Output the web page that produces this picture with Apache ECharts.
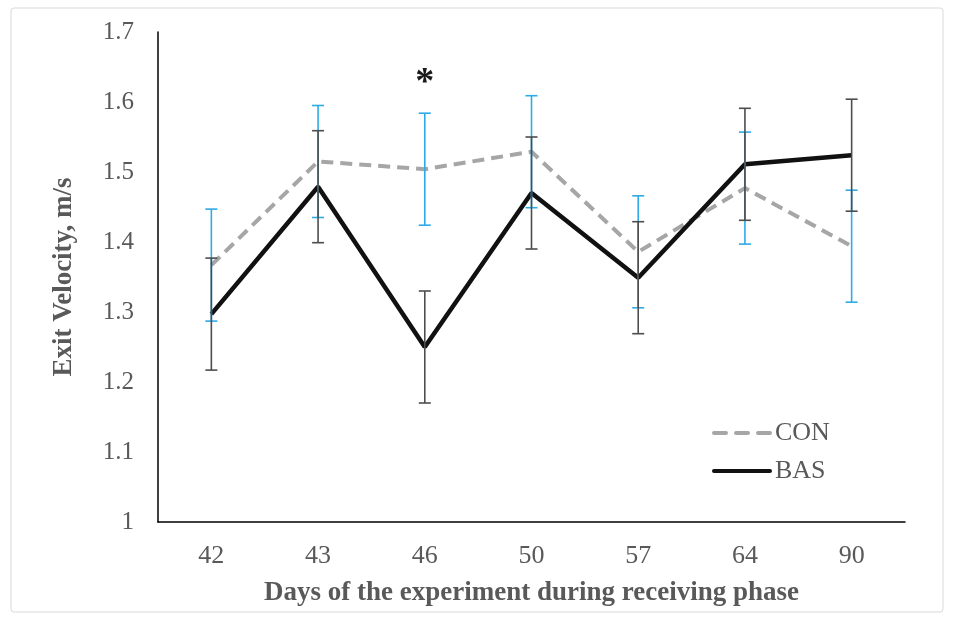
<!DOCTYPE html>
<html>
<head>
<meta charset="utf-8">
<script src="https://cdn.jsdelivr.net/npm/echarts@6/dist/echarts.min.js"></script>
<style>
  html, body { margin: 0; padding: 0; background: #fff; }
  #main { width: 953px; height: 620px; }
</style>
</head>
<body>
<div id="main"></div>
<script>
  // days of the receiving phase
  const days = ['42', '43', '46', '50', '57', '64', '90'];
  const conMean = [1.367, 1.515, 1.504, 1.529, 1.386, 1.477, 1.394];
  const conErr = [0.08, 0.08, 0.08, 0.08, 0.08, 0.08, 0.08];
  const basMean = [1.297, 1.479, 1.250, 1.470, 1.349, 1.511, 1.524];
  const basErr = [0.08, 0.08, 0.08, 0.08, 0.08, 0.08, 0.08];
  const yTicks = [1, 1.1, 1.2, 1.3, 1.4, 1.5, 1.6, 1.7];

  const serif = '"Liberation Serif", "Times New Roman", serif';
  const textColor = '#595959';

  // error bar drawn with custom series
  function errorBar(color) {
    return function (params, api) {
      const x = api.value(0);
      const hi = api.coord([x, api.value(1)]);
      const lo = api.coord([x, api.value(2)]);
      const cap = 6;
      const style = { stroke: color, lineWidth: 1.6 };
      return {
        type: 'group',
        children: [
          { type: 'line', shape: { x1: hi[0], y1: hi[1], x2: lo[0], y2: lo[1] }, style: style },
          { type: 'line', shape: { x1: hi[0] - cap, y1: hi[1], x2: hi[0] + cap, y2: hi[1] }, style: style },
          { type: 'line', shape: { x1: lo[0] - cap, y1: lo[1], x2: lo[0] + cap, y2: lo[1] }, style: style }
        ]
      };
    };
  }

  const conBars = conMean.map((v, i) => [i, v + conErr[i], v - conErr[i]]);
  const basBars = basMean.map((v, i) => [i, v + basErr[i], v - basErr[i]]);

  // legend icons: dashed bar for CON, solid bar for BAS
  const dashIcon = 'path://M2,0h12a2,2 0 0 1 0,4h-12a2,2 0 0 1 0,-4z' +
    'M24,0h12a2,2 0 0 1 0,4h-12a2,2 0 0 1 0,-4z' +
    'M46,0h12a2,2 0 0 1 0,4h-12a2,2 0 0 1 0,-4z';
  const solidIcon = 'path://M2,0h56a2,2 0 0 1 0,4h-56a2,2 0 0 1 0,-4z';

  const chart = echarts.init(document.getElementById('main'));
  chart.setOption({
    animation: false,
    graphic: [{
      type: 'rect',
      shape: { x: 11, y: 8, width: 932, height: 604, r: 3 },
      style: { fill: 'none', stroke: '#d9d9d9', lineWidth: 1 },
      silent: true
    }],
    grid: { left: 158, right: 48, top: 32, bottom: 98 },
    legend: {
      orient: 'vertical',
      left: 707,
      top: 415,
      itemWidth: 60,
      itemHeight: 5,
      itemGap: 12,
      textStyle: { fontFamily: serif, fontSize: 26, color: textColor, padding: [0, 0, 0, -2] },
      data: [{ name: 'CON', icon: dashIcon }, { name: 'BAS', icon: solidIcon }]
    },
    xAxis: {
      type: 'category',
      data: days,
      name: 'Days of the experiment during receiving phase',
      nameLocation: 'middle',
      nameGap: 58,
      nameTextStyle: { fontFamily: serif, fontSize: 27, fontWeight: 'bold', color: textColor },
      axisLine: { lineStyle: { color: '#000', width: 1.5 } },
      axisTick: { show: false },
      axisLabel: { fontFamily: serif, fontSize: 26, color: textColor, margin: 21 }
    },
    yAxis: {
      type: 'value',
      min: 1,
      max: 1.7,
      interval: 0.1,
      name: 'Exit Velocity, m/s',
      nameLocation: 'middle',
      nameGap: 80,
      nameTextStyle: { fontFamily: serif, fontSize: 27, fontWeight: 'bold', color: textColor },
      axisLine: { show: true, lineStyle: { color: '#000', width: 1.5 } },
      axisTick: { show: false },
      splitLine: { show: false },
      axisLabel: {
        fontFamily: serif, fontSize: 25, color: textColor, margin: 24,
        formatter: v => String(+v.toFixed(1))
      }
    },
    series: [
      {
        name: 'CON',
        type: 'line',
        data: conMean,
        showSymbol: false,
        symbol: 'none',
        itemStyle: { color: '#a6a6a6' },
        lineStyle: { color: '#a6a6a6', width: 4, type: [12, 7] },
        z: 2,
        markPoint: {
          symbol: 'circle',
          symbolSize: 0,
          label: {
            show: true, formatter: '*', fontFamily: serif, fontSize: 38,
            fontWeight: 'bold', color: '#1a1a1a', offset: [0, 6]
          },
          data: [{ coord: ['46', 1.635] }]
        }
      },
      {
        name: 'BAS',
        type: 'line',
        data: basMean,
        showSymbol: false,
        symbol: 'none',
        itemStyle: { color: '#111' },
        lineStyle: { color: '#111', width: 4.5 },
        z: 3
      },
      {
        type: 'custom',
        renderItem: errorBar('#2eaae6'),
        data: conBars,
        encode: { x: 0, y: [1, 2] },
        z: 4
      },
      {
        type: 'custom',
        renderItem: errorBar('#4d4d4d'),
        data: basBars,
        encode: { x: 0, y: [1, 2] },
        z: 5
      }
    ]
  });
</script>
</body>
</html>
